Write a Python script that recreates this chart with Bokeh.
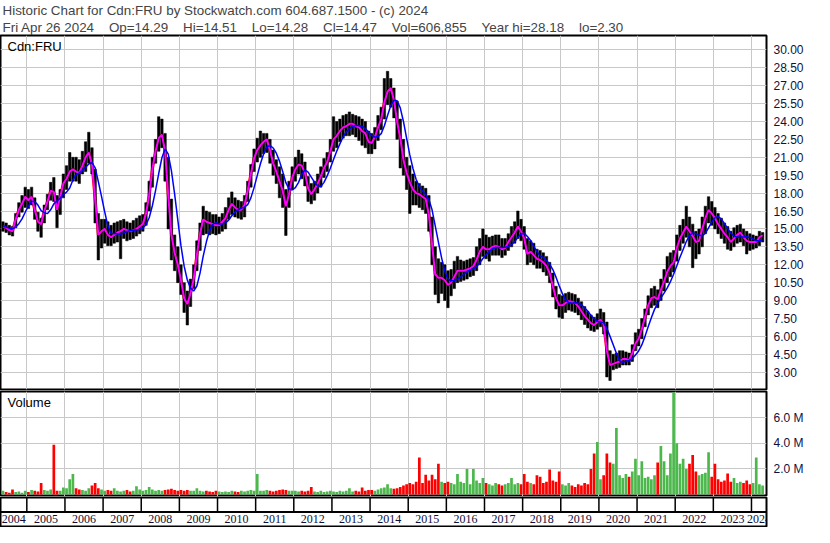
import numpy as np
from bokeh.plotting import figure
from bokeh.layouts import column
from bokeh.models import (Range1d, FixedTicker, PrintfTickFormatter, Title, Label,
                          LabelSet, Span, ColumnDataSource)
from bokeh.embed import file_html
from bokeh.resources import INLINE

# ---------------- data ----------------
symbol = "Cdn:FRU"
quote_date = "Fri Apr 26 2024"
q_open, q_high, q_low, q_close = 14.29, 14.51, 14.28, 14.47
q_volume = "606,855"
year_hi, year_lo = 28.18, 2.30

start_year, start_month = 2004, 5          # first monthly bar: May 2004

close = [
    15.2, 15.1, 14.9, 14.8, 15.8, 16.6, 17.1, 17.7,
    17.4, 17.7, 16.6, 15.6, 15.4, 16.5, 17.3, 18.2, 18.1, 16.6, 17.7, 18.8,
    19.2, 19.8, 20.0, 19.8, 19.7, 20.3, 21.0, 21.4, 20.4, 17.5, 14.5, 14.8,
    15.0, 14.5, 14.3, 14.5, 14.7, 14.8, 15.0, 14.9, 14.8, 14.9, 15.0, 15.2,
    15.4, 16.3, 17.8, 20.0, 21.5, 22.6, 22.9, 21.5, 17.8, 14.5, 13.0, 12.0,
    10.7, 9.2, 8.7, 9.6, 10.8, 12.8, 14.6, 15.8, 15.6, 15.5, 15.4, 15.3,
    15.3, 15.6, 15.9, 16.6, 17.1, 16.8, 16.6, 16.6, 17.0, 18.2, 19.6, 20.9,
    21.6, 22.0, 22.3, 22.5, 21.6, 20.5, 19.8, 19.0, 18.2, 16.9, 17.9, 19.3,
    20.0, 20.4, 20.3, 19.7, 18.4, 17.9, 18.3, 18.8, 19.4, 20.1, 20.6, 21.5,
    22.5, 22.8, 23.2, 23.5, 23.6, 23.8, 23.8, 23.6, 23.5, 23.2, 23.0, 22.3,
    22.2, 22.7, 23.5, 24.2, 25.6, 26.5, 26.8, 25.8, 24.0, 22.6, 20.8, 19.7,
    18.9, 18.3, 18.0, 17.9, 17.7, 17.5, 16.2, 13.7, 11.2, 10.9, 10.9, 10.7,
    10.3, 10.5, 11.0, 11.5, 11.5, 11.5, 11.6, 11.7, 11.9, 12.4, 13.1, 13.5,
    13.3, 13.3, 13.5, 13.6, 13.5, 13.3, 13.4, 13.9, 14.3, 14.7, 15.2, 14.8,
    14.2, 12.9, 13.1, 12.8, 12.5, 12.4, 12.2, 11.9, 11.3, 10.2, 9.2, 8.6,
    8.6, 8.8, 8.95, 8.9, 8.8, 8.5, 8.1, 7.7, 7.4, 7.1, 6.95, 7.2,
    7.4, 7.0, 4.8, 3.6, 3.7, 3.8, 3.9, 4.1, 4.1, 4.0, 4.6, 5.4,
    5.8, 6.6, 7.6, 8.6, 9.2, 9.3, 9.1, 9.9, 10.6, 11.4, 11.9, 12.2,
    13.4, 14.2, 14.7, 15.2, 14.8, 14.4, 13.9, 14.0, 15.0, 15.9, 16.6, 16.3,
    15.9, 15.4, 15.0, 14.6, 14.3, 13.9, 14.2, 14.5, 14.7, 14.3, 14.0, 13.9,
    13.9, 13.9, 14.3, 14.47,
]

high = [
    15.6, 15.5, 15.3, 15.2, 16.3, 17.2, 17.8, 18.5,
    18.3, 18.5, 17.6, 16.4, 15.9, 17.0, 17.9, 18.9, 19.3, 17.8, 18.3, 19.6,
    20.3, 21.4, 21.0, 21.0, 20.8, 21.5, 22.3, 23.1, 21.8, 20.0, 16.3, 15.8,
    15.8, 15.6, 15.3, 15.5, 15.6, 15.7, 15.8, 15.6, 15.5, 15.7, 15.9, 16.1,
    16.2, 17.2, 19.0, 21.0, 22.5, 24.4, 24.2, 23.0, 21.0, 17.5, 14.5, 13.5,
    12.0, 10.5, 9.8, 10.8, 12.0, 14.0, 15.5, 16.9, 16.5, 16.4, 16.2, 16.2,
    16.0, 16.3, 16.8, 17.6, 18.1, 17.6, 17.4, 17.3, 17.8, 19.0, 20.4, 21.7,
    22.6, 23.2, 23.0, 23.0, 22.5, 21.6, 20.8, 20.2, 19.6, 18.3, 19.0, 20.2,
    21.0, 21.6, 21.3, 20.6, 19.4, 18.8, 19.0, 19.6, 20.2, 20.9, 21.4, 22.5,
    24.4, 24.0, 24.2, 24.5, 24.6, 24.8, 24.6, 24.5, 24.4, 24.2, 24.0, 23.2,
    23.0, 23.5, 24.5, 25.2, 27.6, 28.2, 27.6, 26.8, 25.7, 24.2, 22.5, 21.0,
    20.3, 19.6, 19.0, 18.8, 18.6, 18.4, 17.8, 16.0, 13.5, 12.5, 12.2, 12.0,
    11.5, 11.6, 12.3, 12.7, 12.4, 12.3, 12.4, 12.5, 12.6, 13.5, 14.2, 15.0,
    14.5, 14.3, 14.4, 14.5, 14.5, 14.2, 14.2, 14.6, 15.2, 15.6, 16.5, 15.8,
    15.2, 14.2, 14.0, 13.8, 13.3, 13.2, 13.0, 12.7, 12.2, 11.3, 10.2, 9.5,
    9.4, 9.6, 9.7, 9.6, 9.5, 9.2, 8.9, 8.5, 8.1, 7.8, 7.6, 7.9,
    8.3, 8.0, 7.2, 4.8, 4.5, 4.6, 4.8, 4.8, 4.7, 4.6, 5.3, 6.3,
    6.6, 7.5, 8.3, 9.4, 10.0, 10.2, 9.9, 10.8, 11.6, 12.7, 13.0, 13.2,
    14.5, 15.3, 15.8, 16.9, 16.0, 15.4, 14.8, 15.0, 16.0, 16.9, 17.7, 17.3,
    16.8, 16.3, 15.9, 15.5, 15.2, 14.8, 15.1, 15.3, 15.4, 15.0, 14.8, 14.6,
    14.5, 14.4, 14.8, 14.7,
]

low = [
    14.8, 14.7, 14.5, 14.4, 15.1, 16.0, 16.4, 16.8,
    16.7, 17.0, 15.8, 14.8, 14.3, 15.5, 16.6, 17.4, 17.3, 15.1, 16.2, 17.6,
    18.3, 19.0, 19.0, 19.0, 18.8, 19.6, 19.8, 20.5, 19.6, 15.5, 12.4, 13.4,
    13.8, 13.6, 13.6, 13.8, 13.9, 12.5, 14.2, 14.0, 14.1, 14.2, 14.4, 14.6,
    14.8, 15.3, 16.5, 18.5, 20.5, 21.5, 21.8, 19.0, 15.0, 12.4, 11.5, 10.5,
    9.5, 8.0, 6.95, 8.5, 10.0, 11.5, 13.2, 14.5, 14.6, 14.5, 14.6, 14.5,
    14.6, 14.8, 15.0, 15.8, 16.2, 16.0, 15.9, 15.8, 16.0, 17.3, 18.5, 19.8,
    20.6, 21.0, 21.3, 21.4, 20.5, 19.5, 18.8, 17.6, 16.8, 14.45, 16.8, 18.3,
    19.0, 19.6, 19.2, 18.6, 17.3, 17.1, 17.4, 18.0, 18.5, 19.3, 19.8, 20.6,
    21.5, 21.8, 22.3, 22.6, 22.8, 22.8, 22.9, 22.7, 22.4, 22.0, 21.8, 21.3,
    21.3, 21.7, 22.4, 23.3, 24.2, 25.4, 25.2, 24.3, 22.5, 20.1, 19.5, 18.3,
    16.3, 17.0, 17.0, 16.8, 16.6, 16.3, 14.8, 12.0, 9.5, 8.8, 9.6, 9.0,
    8.4, 9.4, 10.0, 10.5, 10.6, 10.7, 10.8, 11.0, 11.1, 11.5, 12.0, 12.7,
    12.5, 12.3, 12.8, 12.8, 12.8, 12.6, 12.8, 13.2, 13.5, 13.8, 14.2, 14.0,
    13.3, 12.0, 12.2, 12.0, 11.7, 11.7, 11.4, 11.1, 10.5, 9.3, 8.3, 7.6,
    7.5, 8.0, 8.2, 8.1, 8.0, 7.8, 7.4, 7.0, 6.7, 6.5, 6.4, 6.6,
    6.8, 6.2, 2.6, 2.3, 3.2, 3.3, 3.4, 3.6, 3.6, 3.6, 3.9, 4.8,
    5.2, 5.8, 6.8, 7.8, 8.4, 8.6, 8.4, 9.0, 9.8, 10.5, 11.0, 11.4,
    12.3, 13.2, 13.8, 14.3, 13.5, 11.75, 12.5, 12.9, 13.5, 14.6, 15.5, 15.3,
    15.0, 14.6, 14.2, 13.8, 13.3, 13.2, 13.5, 13.8, 13.9, 13.6, 12.9, 13.2,
    13.3, 13.4, 13.6, 13.9,
]

volume_m = [
    0.3, 0.2, 0.15, 0.4, 0.2, 0.25, 0.15, 0.3,
    0.2, 0.35, 0.3, 0.25, 0.9, 0.35, 0.3, 0.4, 3.9, 0.3, 0.3, 0.55,
    0.5, 1.2, 1.6, 0.5, 0.4, 0.35, 0.3, 0.5, 0.7, 0.9, 0.5, 0.4,
    0.3, 0.35, 0.3, 0.5, 0.3, 0.25, 0.3, 0.35, 0.25, 0.3, 0.65, 0.4,
    0.3, 0.35, 0.6, 0.4, 0.3, 0.35, 0.3, 0.35, 0.4, 0.45, 0.35, 0.3,
    0.35, 0.3, 0.35, 0.3, 0.3, 0.5, 0.3, 0.25, 0.3, 0.25, 0.2, 0.3,
    0.25, 0.2, 0.25, 0.2, 0.3, 0.25, 0.2, 0.3, 0.25, 0.3, 0.35, 0.3,
    1.6, 0.3, 0.3, 0.35, 0.3, 0.25, 0.3, 0.35, 0.4, 0.35, 0.3, 0.3,
    0.3, 0.25, 0.3, 0.25, 0.3, 0.6, 0.25, 0.2, 0.3, 0.2, 0.25, 0.3,
    0.25, 0.2, 0.3, 0.25, 0.3, 0.5, 0.25, 0.3, 0.25, 0.55, 0.3, 0.35,
    0.35, 0.3, 0.4, 0.5, 0.55, 0.8, 0.5, 0.45, 0.5, 0.6, 0.7, 0.8,
    0.9, 0.8, 1.0, 2.9, 0.9, 1.55, 1.1, 1.55, 1.2, 2.4, 1.0, 0.9,
    1.0, 0.9, 0.8, 1.6, 1.0, 0.9, 2.0, 0.8, 2.0, 1.1, 0.9, 1.3,
    0.9, 0.8, 0.7, 0.9, 0.8, 0.7, 0.8, 0.9, 1.3, 0.8, 0.9, 0.8,
    1.6, 1.0, 0.9, 0.8, 1.5, 1.4, 0.9, 1.0, 1.95, 1.1, 1.0, 1.8,
    0.8, 0.7, 0.9, 0.7, 0.6, 0.8, 0.7, 0.9, 0.8, 2.0, 3.2, 4.1,
    1.2, 1.5, 3.2, 2.5, 2.4, 5.2, 1.5, 1.3, 1.6, 1.4, 1.8, 2.8,
    1.5, 2.6, 1.3, 1.4, 1.2, 1.5, 2.5, 3.8, 2.6, 1.5, 3.2, 8.0,
    4.0, 2.4, 2.8, 2.0, 2.4, 3.1, 1.8, 1.5, 1.6, 1.7, 3.3, 1.4,
    2.4, 1.2, 1.0, 1.1, 1.65, 1.0, 1.3, 0.9, 1.0, 0.9, 1.1, 0.8,
    0.9, 2.9, 0.8, 0.7,
]

price_ticks = [3.00, 4.50, 6.00, 7.50, 9.00, 10.50, 12.00, 13.50, 15.00, 16.50,
               18.00, 19.50, 21.00, 22.50, 24.00, 25.50, 27.00, 28.50, 30.00]
volume_ticks = [2.0, 4.0, 6.0]
year_labels = ["2004", "2005", "2006", "2007", "2008", "2009", "2010", "2011",
               "2012", "2013", "2014", "2015", "2016", "2017", "2018", "2019",
               "2020", "2021", "2022", "2023", "2024"]

# ---------------- derived series ----------------
n = len(close)
t = [start_year + (start_month - 1 + i + 0.5) / 12.0 for i in range(n)]
c = np.array(close)
ma_blue = [float(c[max(0, i - 4):i + 1].mean()) for i in range(n)]
vcolor = ["#4cb84c" if i == 0 or close[i] >= close[i - 1] else "#ff0000" for i in range(n)]
src = ColumnDataSource(dict(t=t, close=close, high=high, low=low, ma=ma_blue,
                            vol=volume_m, vcolor=vcolor))

years = [int(y) for y in year_labels]
x_start, x_end = 2004.31, 2024.394
bounds = [y for y in years if x_start < y < x_end]
label_x = [(max(y, x_start) + min(y + 1, x_end)) / 2 for y in years]
lab_src = ColumnDataSource(dict(x=label_x, y=[0.5] * len(label_x), text=year_labels))

# ---------------- styling ----------------
W = 814
RB = 48
FONT = "Liberation Sans"
LAB = "#10103a"
GRID = "#c8c8c8"
GAP = " \u00a0\u00a0\u00a0"

xr = Range1d(x_start, x_end)

line1 = f"Historic Chart for {symbol} by Stockwatch.com 604.687.1500 - (c) 2024"
line2 = GAP.join([quote_date, f"Op={q_open:.2f}", f"Hi={q_high:.2f}", f"Lo={q_low:.2f}",
                  f"Cl={q_close:.2f}", f"Vol={q_volume}",
                  f"Year hi={year_hi:.2f}", f"lo={year_lo:.2f}"])


def style_right_axis(fig, ticks, fmt):
    ax = fig.yaxis[0]
    ax.ticker = FixedTicker(ticks=ticks)
    ax.formatter = PrintfTickFormatter(format=fmt)
    ax.axis_line_color = None
    ax.major_tick_line_color = None
    ax.minor_tick_line_color = None
    ax.major_tick_in = 0
    ax.major_tick_out = 0
    ax.major_label_standoff = 7
    ax.major_label_text_font = FONT
    ax.major_label_text_font_size = "12px"
    ax.major_label_text_color = LAB
    fig.ygrid.ticker = FixedTicker(ticks=ticks)
    fig.xgrid.ticker = FixedTicker(ticks=bounds)
    fig.grid.grid_line_color = GRID
    fig.grid.grid_line_width = 1
    fig.outline_line_color = "black"
    fig.outline_line_width = 2


# price panel
p = figure(width=W, height=390, x_range=xr, y_range=Range1d(1.55, 31.2),
           output_backend="svg", toolbar_location=None,
           x_axis_location=None, y_axis_location="right",
           min_border_left=0, min_border_right=RB, min_border_top=0,
           min_border_bottom=1)
p.title.text = line1
p.title.align = "left"
p.title.offset = 2
p.title.standoff = 0
p.title.text_font = FONT
p.title.text_font_size = "13.4px"
p.title.text_font_style = "normal"
p.title.text_line_height = 1.0
p.add_layout(Title(text=line2, align="left", offset=2, standoff=1, text_font=FONT,
                   text_font_size="13.4px", text_font_style="normal",
                   text_line_height=1.0), "above")
style_right_axis(p, price_ticks, "%.2f")

p.line("t", "close", source=src, line_color="#ff0000", line_width=3)
p.vbar(x="t", bottom="low", top="high", width=0.78 / 12, source=src,
       fill_color="black", line_color="black", line_width=0.5)
p.line("t", "close", source=src, line_color="#ff00ff", line_width=2)
p.line("t", "ma", source=src, line_color="#0000ff", line_width=1.5)
p.add_layout(Label(x=x_start, y=31.2, text=symbol, x_offset=7, y_offset=-3,
                   text_align="left", text_baseline="top", text_font=FONT,
                   text_font_size="13px", text_color="black"))

# volume panel
v = figure(width=W, height=106, x_range=xr, y_range=Range1d(-0.15, 8.05),
           output_backend="svg", toolbar_location=None,
           x_axis_location=None, y_axis_location="right",
           min_border_left=0, min_border_right=RB, min_border_top=1,
           min_border_bottom=0)
style_right_axis(v, volume_ticks, "%.1f M")
v.vbar(x="t", bottom=0, top="vol", width=0.85 / 12, source=src,
       fill_color="vcolor", line_color=None)
v.add_layout(Label(x=x_start, y=8.05, text="Volume", x_offset=7, y_offset=-3,
                   text_align="left", text_baseline="top", text_font=FONT,
                   text_font_size="13px", text_color="black"))

# year strip
s = figure(width=W, height=31, x_range=xr, y_range=Range1d(0, 2),
           output_backend="svg", toolbar_location=None,
           x_axis_location=None, y_axis_location=None,
           min_border_left=0, min_border_right=RB, min_border_top=1,
           min_border_bottom=1)
s.grid.visible = False
s.outline_line_color = "black"
s.outline_line_width = 2
s.segment(x0=bounds, y0=[1] * len(bounds), x1=bounds, y1=[2] * len(bounds),
          line_color="black", line_width=1.5)
s.add_layout(Span(location=1, dimension="width", line_color="black", line_width=2))
s.add_layout(LabelSet(x="x", y="y", text="text", source=lab_src, text_align="center",
                      text_baseline="middle", text_font=FONT, text_font_size="12px",
                      text_color=LAB))

layout = column(p, v, s, spacing=0)
open("out.html", "w").write(file_html(layout, INLINE))
